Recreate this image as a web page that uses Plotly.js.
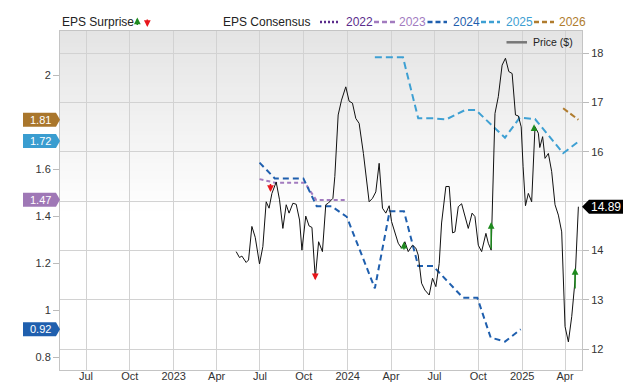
<!DOCTYPE html>
<html><head><meta charset="utf-8">
<script src="https://cdn.plot.ly/plotly-3.0.1.min.js"></script>
<style>html,body{margin:0;padding:0;background:#fff}#chart{width:640px;height:382px}</style>
</head><body><div id="chart"></div>
<script>
// ---------- DATA ----------
const priceDates = ['2023-05-12','2023-05-19','2023-05-24','2023-05-28','2023-06-02','2023-06-07','2023-06-14','2023-06-21','2023-06-30','2023-07-07',
'2023-07-14','2023-07-20','2023-07-26','2023-08-04','2023-08-11','2023-08-18','2023-08-25','2023-08-31','2023-09-08','2023-09-15',
'2023-09-22','2023-09-27','2023-10-05','2023-10-12','2023-10-18','2023-10-25','2023-11-01','2023-11-09','2023-11-16','2023-11-21',
'2023-12-01','2023-12-05','2023-12-12','2023-12-19','2023-12-28','2024-01-04','2024-01-11','2024-01-18','2024-01-25','2024-02-03',
'2024-02-15','2024-02-22','2024-02-29','2024-03-07','2024-03-14','2024-03-21','2024-03-28','2024-04-02','2024-04-09','2024-04-16',
'2024-04-23','2024-04-30','2024-05-07','2024-05-16','2024-05-23','2024-05-28','2024-06-04','2024-06-11','2024-06-20','2024-06-27',
'2024-07-04','2024-07-11','2024-07-16','2024-07-25','2024-08-01','2024-08-08','2024-08-13','2024-08-20','2024-08-27','2024-09-03',
'2024-09-10','2024-09-18','2024-09-24','2024-10-01','2024-10-08','2024-10-17','2024-10-22','2024-10-28','2024-11-05','2024-11-12',
'2024-11-20','2024-11-27','2024-12-04','2024-12-11','2024-12-18','2024-12-24','2024-12-30','2025-01-03','2025-01-08','2025-01-14',
'2025-01-21','2025-01-28','2025-02-04','2025-02-07','2025-02-13','2025-02-18','2025-02-25','2025-03-04','2025-03-11','2025-03-18',
'2025-03-25','2025-04-01','2025-04-08','2025-04-15','2025-04-22','2025-04-29'];
const priceValues = [13.98,13.86,13.89,13.84,13.76,13.81,14.49,14.27,13.73,14.08,
14.99,14.86,15.16,15.39,15.03,14.45,14.93,14.76,14.96,14.94,
14.62,14.01,14.70,14.50,14.47,13.44,14.18,13.98,14.93,14.96,
15.06,15.50,16.75,17.05,17.32,17.03,16.99,16.68,16.58,15.97,
14.99,15.06,15.19,15.77,14.86,14.76,14.91,14.59,14.38,14.15,
14.05,14.18,13.98,14.11,14.05,13.91,13.34,13.20,13.10,13.44,
13.27,13.74,14.56,15.30,15.30,14.36,14.38,14.89,14.95,14.72,
14.45,14.76,14.69,14.11,13.98,14.35,14.15,14.01,16.78,17.12,
17.76,17.90,17.63,17.59,16.75,16.73,16.51,15.70,14.91,15.16,
14.99,16.51,16.38,16.09,16.31,15.87,15.97,15.60,14.93,14.72,
14.38,12.46,12.15,12.66,13.40,14.89];

const eps2022Dates = [];
const eps2022Values = [];
const eps2023Dates = ['2023-06-30','2023-08-01','2023-10-03','2023-10-27','2023-12-26'];
const eps2023Values = [1.558,1.543,1.543,1.469,1.469];
const eps2024Dates = ['2023-06-30','2023-08-01','2023-09-30','2023-10-28','2023-11-28','2023-12-30','2024-02-27','2024-03-29','2024-04-28','2024-05-28','2024-06-28','2024-08-30','2024-09-29','2024-10-27','2024-11-26','2024-12-29'];
const eps2024Values = [1.628,1.561,1.561,1.443,1.443,1.398,1.094,1.422,1.422,1.189,1.189,1.054,1.054,0.885,0.868,0.92];
const eps2025Dates = ['2024-02-27','2024-04-26','2024-05-28','2024-06-28','2024-07-26','2024-09-03','2024-09-26','2024-11-26','2024-12-27','2025-01-28','2025-03-28','2025-05-01'];
const eps2025Values = [2.075,2.075,1.816,1.816,1.812,1.851,1.851,1.734,1.819,1.813,1.668,1.72];
const eps2026Dates = ['2025-03-28','2025-04-29'];
const eps2026Values = [1.859,1.81];

const consensusYears = ['2022','2023','2024','2025','2026'];
const consensusColors = ['#5b2c8c','#a27bbf','#1f5fae','#3ea0d3','#b07c2e'];

const latestConsensus = [1.81,1.72,1.47,0.92];
const latestColors = ['#a9762c','#3a9dd0','#9f78b6','#1f5fae'];
const lastPrice = 14.89;

const surpriseDates = ['2023-07-23','2023-10-25','2024-04-28','2024-10-28','2025-01-26','2025-04-22'];
const surpriseFrom  = [15.38,13.57,13.99,14.01,16.40,13.20];
const surpriseTo    = [15.19,13.40,14.18,14.58,16.56,13.65];
const surpriseBeat  = [false,false,true,true,true,true];

const xTickVals = ['2022-07-01','2022-10-01','2023-01-01','2023-04-01','2023-07-01','2023-10-01','2024-01-01','2024-04-01','2024-07-01','2024-10-01','2025-01-01','2025-04-01'];
const xTickText = ['Jul','Oct','2023','Apr','Jul','Oct','2024','Apr','Jul','Oct','2025','Apr'];
const epsTickVals = [0.8,1,1.2,1.4,1.6,2];
const epsTickText = ['0.8','1','1.2','1.4','1.6','2'];
const priceTickVals = [12,13,14,15,16,17,18];
const priceTickText = ['12','13','14','','16','17','18'];

// ---------- LAYOUT HELPERS ----------
const W = 640, H = 382, PL = 60, PR = 582, PT = 31, PB = 370;
const px2x = p => (p - PL) / (PR - PL);
const px2y = p => (PB - p) / (PB - PT);
const FONT = 'Liberation Sans, Arial, sans-serif';
const GREEN = '#1e8a1e', RED = '#e8161b';

const dashes = ['2px,2px','4px,3px','6px,4px','7px,4px','6px,3px'];

const traces = [
  {x: eps2022Dates, y: eps2022Values, yaxis:'y', mode:'lines', line:{color:consensusColors[0], width:2, dash:dashes[0]}},
  {x: eps2023Dates, y: eps2023Values, yaxis:'y', mode:'lines', line:{color:consensusColors[1], width:2, dash:dashes[1]}},
  {x: eps2024Dates, y: eps2024Values, yaxis:'y', mode:'lines', line:{color:consensusColors[2], width:2, dash:dashes[2]}},
  {x: eps2025Dates, y: eps2025Values, yaxis:'y', mode:'lines', line:{color:consensusColors[3], width:2, dash:dashes[3]}},
  {x: eps2026Dates, y: eps2026Values, yaxis:'y', mode:'lines', line:{color:consensusColors[4], width:2, dash:dashes[4]}},
  {x: priceDates, y: priceValues, yaxis:'y2', mode:'lines', line:{color:'#111', width:1}}
].map(t => Object.assign(t, {showlegend:false, hoverinfo:'skip'}));

const shapes = [];
// background gradient (header band fading to white)
const gTop = PT, gBot = 215, N = 46;
for (let i = 0; i < N; i++) {
  const y0 = gTop + i * (gBot - gTop) / N, y1 = gTop + (i + 1) * (gBot - gTop) / N;
  const c = Math.round(228 + 27 * (i + 0.5) / N);
  shapes.push({type:'rect', xref:'paper', yref:'paper', x0:0, x1:1, y0:px2y(y1), y1:px2y(y0),
    fillcolor:`rgb(${c},${c},${c})`, line:{width:0}, layer:'below'});
}
// left flags for latest consensus
latestConsensus.forEach((v, i) => {
  shapes.push({type:'path', xref:'paper', yref:'y', xsizemode:'pixel', ysizemode:'pixel', xanchor:0, yanchor:v,
    path:'M-37,7 L-4,7 L0,0 L-4,-7 L-37,-7 Z', fillcolor:latestColors[i], line:{width:0}, layer:'above'});
});
// right flag for last price
shapes.push({type:'path', xref:'paper', yref:'y2', xsizemode:'pixel', ysizemode:'pixel', xanchor:1, yanchor:lastPrice,
  path:'M0,0 L7,7 L41,7 L41,-7 L7,-7 Z', fillcolor:'#000', line:{width:0}, layer:'above'});

// header legend samples
const legX = [[320,339],[374,395],[427.5,447],[481,500],[534,554]];
const legTextX = [343.5,397,450.5,504,556.5];
legX.forEach((p, i) => {
  shapes.push({type:'line', xref:'paper', yref:'paper', x0:px2x(p[0]), x1:px2x(p[1]), y0:px2y(22), y1:px2y(22),
    line:{color:consensusColors[i], width:2.5, dash: i===0 ? '2px,2px' : '5px,3px'}});
});
// price legend sample
shapes.push({type:'line', xref:'paper', yref:'paper', x0:px2x(506.5), x1:px2x(527), y0:px2y(42.3), y1:px2y(42.3),
  line:{color:'#777', width:2.5}});

const annotations = [];
annotations.push({xref:'paper', yref:'paper', x:px2x(60), y:px2y(22.5), xanchor:'left', yanchor:'middle',
  text:'EPS Surprise', showarrow:false, font:{family:FONT, size:12, color:'#222'}});
annotations.push({xref:'paper', yref:'paper', x:px2x(137.3), y:px2y(17.5), ax:0, ay:9, text:'', showarrow:true,
  arrowhead:2, arrowsize:0.9, arrowwidth:1.5, arrowcolor:GREEN});
annotations.push({xref:'paper', yref:'paper', x:px2x(147.3), y:px2y(27), ax:0, ay:-9, text:'', showarrow:true,
  arrowhead:2, arrowsize:0.9, arrowwidth:1.5, arrowcolor:RED});
annotations.push({xref:'paper', yref:'paper', x:px2x(221), y:px2y(22.5), xanchor:'left', yanchor:'middle',
  text:'EPS Consensus', showarrow:false, font:{family:FONT, size:12, color:'#222'}});
consensusYears.forEach((yr, i) => {
  annotations.push({xref:'paper', yref:'paper', x:px2x(legTextX[i]), y:px2y(22.5), xanchor:'left', yanchor:'middle',
    text:yr, showarrow:false, font:{family:FONT, size:12, color:consensusColors[i]}});
});
annotations.push({xref:'paper', yref:'paper', x:px2x(531), y:px2y(42.3), xanchor:'left', yanchor:'middle',
  text:'Price ($)', showarrow:false, font:{family:FONT, size:10.5, color:'#222'}});
// flag labels
latestConsensus.forEach((v, i) => {
  annotations.push({xref:'paper', yref:'y', x:0, y:v, xshift:-20, xanchor:'center', yanchor:'middle',
    text:v.toFixed(2), showarrow:false, font:{family:FONT, size:11, color:'#fff'}});
});
annotations.push({xref:'paper', yref:'y2', x:1, y:lastPrice, xshift:24, xanchor:'center', yanchor:'middle',
  text:lastPrice.toFixed(2), showarrow:false, font:{family:FONT, size:12, color:'#fff'}});
// EPS surprise arrows
surpriseDates.forEach((d, i) => {
  annotations.push({xref:'x', yref:'y2', axref:'x', ayref:'y2', x:d, y:surpriseTo[i], ax:d, ay:surpriseFrom[i],
    text:'', showarrow:true, arrowhead:2, arrowsize:0.9, arrowwidth:1.5, standoff:0,
    arrowcolor: surpriseBeat[i] ? GREEN : RED});
});

const layout = {
  width:W, height:H,
  margin:{l:PL, r:W-PR, t:PT, b:H-PB, pad:0},
  paper_bgcolor:'#fff', plot_bgcolor:'rgba(0,0,0,0)',
  font:{family:FONT, size:11, color:'#333'},
  showlegend:false, hovermode:false,
  xaxis:{type:'date', range:['2022-05-07 10:00','2025-05-06 14:00'], tickvals:xTickVals, ticktext:xTickText,
    showgrid:true, gridcolor:'#d2d2d2', gridwidth:1, ticks:'', showline:true, linecolor:'#c4c4c4', mirror:true,
    ticklabelstandoff:-4,
    zeroline:false, tickfont:{family:FONT, size:11, color:'#333'}, fixedrange:true},
  yaxis:{range:[0.7473,2.187], tickvals:epsTickVals, ticktext:epsTickText, showgrid:false, zeroline:false,
    ticks:'outside', ticklen:6, tickcolor:'#bbb', showline:true, linecolor:'#c4c4c4',
    tickfont:{family:FONT, size:11, color:'#333'}, fixedrange:true},
  yaxis2:{overlaying:'y', side:'right', range:[11.58,18.452], tickvals:priceTickVals, ticktext:priceTickText,
    showgrid:true, gridcolor:'#d2d2d2', zeroline:false, ticks:'outside', ticklen:6, tickcolor:'#bbb',
    showline:true, linecolor:'#c4c4c4', tickfont:{family:FONT, size:11, color:'#333'}, fixedrange:true},
  shapes:shapes, annotations:annotations
};

Plotly.newPlot('chart', traces, layout, {displayModeBar:false, staticPlot:true});
</script>
</body></html>
